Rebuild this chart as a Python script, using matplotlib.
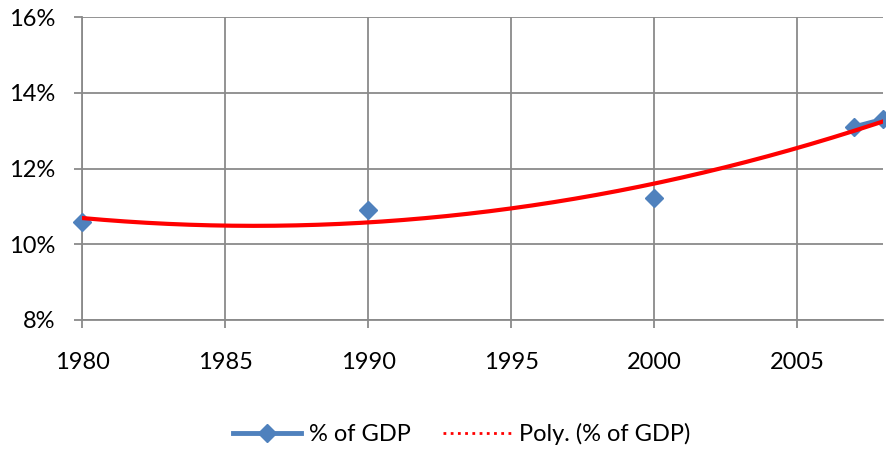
import numpy as np
import matplotlib.pyplot as plt
from matplotlib.ticker import FuncFormatter

plt.rcParams['font.family'] = ['Lato', 'DejaVu Sans']

years = np.arange(1980, 2009)
known_years = [1980, 1990, 2000, 2007, 2008]
known_vals = [10.59, 10.90, 11.22, 13.10, 13.30]

# series with gaps where there is no data
pct_gdp = np.full(len(years), np.nan)
for y, v in zip(known_years, known_vals):
    pct_gdp[y - 1980] = v

# 2nd order polynomial trend, like Excel's "Poly." trendline
coef = np.polyfit(known_years, known_vals, 2)
xs = np.linspace(1980, 2008, 300)
trend = np.polyval(coef, xs)

fig = plt.figure(figsize=(8.87, 4.49), dpi=100)
ax = fig.add_axes([82 / 887, 1 - 320 / 449, (883 - 82) / 887, (320 - 17) / 449])

ax.plot(years, pct_gdp, color='#4F81BD', lw=3.5, marker='D', ms=9.5,
        label='% of GDP', clip_on=False, zorder=3)
ax.plot(xs, trend, color='red', lw=3, zorder=4)
# legend handle for the trendline is dotted
ax.plot([], [], color='red', lw=2, ls=(0, (1, 1.6)), label='Poly. (% of GDP)')

ax.set_xlim(1980, 2008)
ax.set_ylim(8, 16)
ax.set_xticks(np.arange(1980, 2009, 5))
ax.set_yticks(np.arange(8, 17, 2))
ax.yaxis.set_major_formatter(FuncFormatter(lambda v, p: f'{v:.0f}%'))

ax.grid(True, color='#8a8a8a', lw=1.3)
ax.set_axisbelow(True)
for s in ['top', 'right']:
    ax.spines[s].set_visible(False)
for s in ['left', 'bottom']:
    ax.spines[s].set_color('#8a8a8a')
    ax.spines[s].set_linewidth(1.3)
ax.tick_params(axis='both', colors='#8a8a8a', length=6, width=1.3,
               labelcolor='black', labelsize=17)
ax.tick_params(axis='x', pad=17)
ax.tick_params(axis='y', pad=13)

ax.legend(loc='center', bbox_to_anchor=(0.474, -0.376),
          ncol=2, frameon=False, fontsize=17, handlelength=2.9, columnspacing=1.4,
          handletextpad=0.3)

fig.savefig('out.png', dpi=100)
